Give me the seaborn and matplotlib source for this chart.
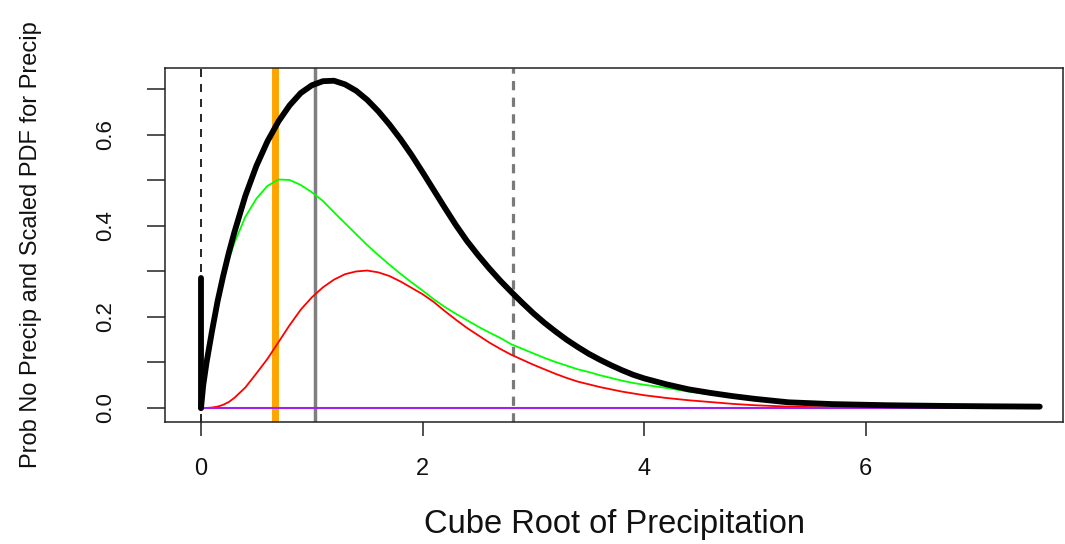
import numpy as np
import pandas as pd
import matplotlib
matplotlib.use("Agg")
import matplotlib.pyplot as plt
import seaborn as sns

# ---- data ----
x_vals = [0, 0.02, 0.05, 0.1, 0.15, 0.2, 0.25, 0.3, 0.4, 0.5, 0.6, 0.7, 0.8, 0.9,
          1.0, 1.1, 1.2, 1.3, 1.4, 1.5, 1.6, 1.7, 1.8, 1.9, 2.0, 2.1, 2.2, 2.3, 2.4,
          2.5, 2.6, 2.7, 2.8, 2.9, 3.0, 3.1, 3.2, 3.3, 3.4, 3.5, 3.6, 3.7, 3.8, 3.9,
          4.0, 4.2, 4.4, 4.6, 4.8, 5.0, 5.3, 5.7, 6.2, 6.7, 7.1, 7.57]
total_pdf = [0.0, 0.05, 0.10, 0.17, 0.235, 0.29, 0.34, 0.385, 0.466, 0.532, 0.586,
             0.630, 0.665, 0.692, 0.709, 0.718, 0.719, 0.711, 0.697, 0.677, 0.652,
             0.623, 0.591, 0.556, 0.518, 0.479, 0.440, 0.402, 0.367, 0.336, 0.307,
             0.280, 0.255, 0.231, 0.208, 0.187, 0.168, 0.150, 0.134, 0.119, 0.106,
             0.094, 0.083, 0.073, 0.065, 0.052, 0.041, 0.033, 0.026, 0.020, 0.0125,
             0.0085, 0.006, 0.0045, 0.0037, 0.003]
green_pdf = [0.0, 0.05, 0.10, 0.169, 0.232, 0.283, 0.325, 0.362, 0.420, 0.460, 0.488,
             0.502, 0.501, 0.490, 0.474, 0.455, 0.430, 0.406, 0.382, 0.358, 0.336,
             0.315, 0.295, 0.276, 0.258, 0.239, 0.222, 0.207, 0.193, 0.179, 0.166,
             0.154, 0.140, 0.130, 0.120, 0.110, 0.101, 0.093, 0.085, 0.079, 0.072,
             0.066, 0.060, 0.055, 0.051, 0.044, 0.036, 0.030, 0.024, 0.018, 0.012,
             0.008, 0.0055, 0.004, 0.003, 0.0025]
red_pdf = [0.0, 0.0, 0.0, 0.001, 0.003, 0.007, 0.013, 0.022, 0.045, 0.076, 0.108,
           0.145, 0.182, 0.216, 0.243, 0.265, 0.282, 0.294, 0.300, 0.302, 0.298,
           0.290, 0.278, 0.264, 0.250, 0.233, 0.213, 0.194, 0.176, 0.160, 0.144,
           0.130, 0.117, 0.106, 0.095, 0.085, 0.075, 0.066, 0.058, 0.052, 0.046,
           0.041, 0.036, 0.032, 0.028, 0.022, 0.017, 0.013, 0.009, 0.006, 0.003,
           0.001, 0.0, 0.0, 0.0, 0.0]
purple_pdf = [0.0] * len(x_vals)
prob_no_precip = 0.285
vline_x = [0.0, 0.667, 1.033, 2.815]
x_ticks = [0, 2, 4, 6]
y_ticks = [0.0, 0.1, 0.2, 0.3, 0.4, 0.5, 0.6, 0.7]
y_tick_labels = ["0.0", "", "0.2", "", "0.4", "", "0.6", ""]
x_label = "Cube Root of Precipitation"
y_label = "Prob No Precip and Scaled PDF for Precip"

sns.set_style("white")
plt.rcParams["font.family"] = ["Liberation Sans", "DejaVu Sans"]

fig = plt.figure(figsize=(10.65, 5.44), dpi=100)
ax = fig.add_axes([165 / 1065, 1 - 422 / 544, 898 / 1065, 354 / 544])

# vertical reference lines
ax.axvline(vline_x[0], color="black", lw=1.2, ls=(0, (4.8, 4.2)), zorder=1)
ax.axvline(vline_x[1], color="#FFA500", lw=5.0, zorder=1)
ax.axvline(vline_x[2], color="#7f7f7f", lw=2.5, zorder=1)
ax.axvline(vline_x[3], color="#7a7a7a", lw=2.3, ls=(0, (2.9, 2.3)), zorder=1)

df = pd.DataFrame({"x": x_vals, "total": total_pdf, "green": green_pdf,
                   "red": red_pdf, "purple": purple_pdf})

sns.lineplot(data=df, x="x", y="green", color="#00FF00", lw=1.3, sort=False,
             estimator=None, ax=ax, zorder=3)
sns.lineplot(data=df, x="x", y="red", color="#FF0000", lw=1.3, sort=False,
             estimator=None, ax=ax, zorder=3)
sns.lineplot(data=df, x="x", y="purple", color="#A020F0", lw=1.5, sort=False,
             estimator=None, ax=ax, zorder=3)
sns.lineplot(data=df, x="x", y="total", color="black", lw=4.2, sort=False,
             estimator=None, ax=ax, zorder=4, solid_capstyle="round",
             solid_joinstyle="round")
spike = pd.DataFrame({"x": [vline_x[0], vline_x[0]], "y": [0.0, prob_no_precip]})
sns.lineplot(data=spike, x="x", y="y", color="black", lw=4.2, sort=False,
             estimator=None, ax=ax, zorder=4, solid_capstyle="round")

ax.set_xlim(-0.325, 7.78)
ax.set_ylim(-0.0308, 0.747)
ax.set_xticks(x_ticks)
ax.set_xticklabels([str(t) for t in x_ticks])
ax.set_yticks(y_ticks)
ax.set_yticklabels(y_tick_labels, rotation=90, va="center")

for s in ax.spines.values():
    s.set_visible(True)
    s.set_color("#222222")
    s.set_linewidth(1.1)

ax.tick_params(axis="x", bottom=True, direction="out", length=10, width=1.1,
               color="#222222", labelsize=17, pad=16, labelcolor="#111111")
ax.tick_params(axis="y", left=True, direction="out", length=13, width=1.1,
               color="#222222", labelsize=16, pad=22, labelcolor="#111111")

ax.set_xlabel(x_label, fontsize=23.5, color="#111111")
ax.set_ylabel(y_label, fontsize=17, color="#111111")
ax.xaxis.set_label_coords(0.5, -0.247)
ax.xaxis.label.set_va("top")
ax.yaxis.set_label_coords(-0.137, 0.5)
ax.grid(False)

fig.savefig("out.png", dpi=100)
